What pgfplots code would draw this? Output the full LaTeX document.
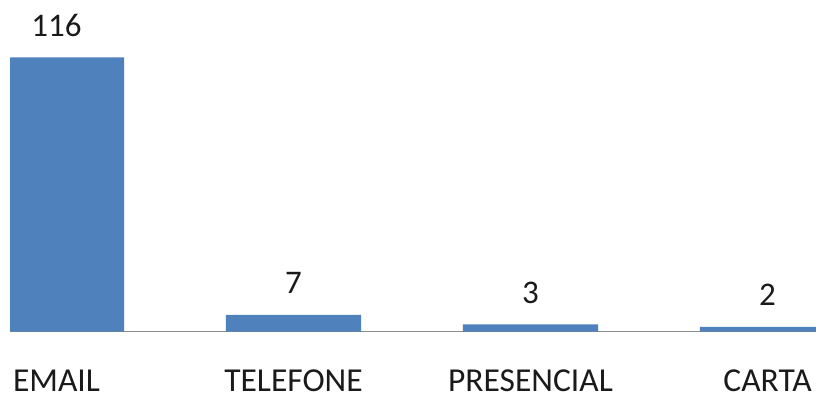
\documentclass[border=0pt]{standalone}
\usepackage{pgfplots}
\pgfplotsset{compat=1.18}
\usepackage{fontspec}
\setmainfont{Carlito}
\definecolor{barblue}{HTML}{4F81BD}
\definecolor{axisgray}{HTML}{8C8C8C}
\definecolor{txt}{HTML}{1A1A1A}
\begin{document}
\begin{tikzpicture}
\useasboundingbox (0,0) rectangle (816pt,394pt);
\begin{axis}[
  at={(10pt,62.5pt)}, anchor=south west,
  scale only axis,
  width=806pt, height=331.5pt,
  xmin=-0.1962, xmax=3.2046,
  ymin=0, ymax=140.3,
  ybar, bar width=0.57,
  axis x line*=bottom, axis y line=none,
  axis line style={axisgray, line width=1.3pt},
  xtick=data,
  xticklabels={EMAIL,TELEFONE,PRESENCIAL,CARTA},
  major tick length=0pt,
  xticklabel style={font=\fontsize{33.5}{40}\selectfont, text=txt, anchor=base,
    inner sep=0pt, text depth=0pt, yshift=-60pt},
  nodes near coords,
  every node near coord/.append style={font=\fontsize{33}{40}\selectfont, text=txt,
    anchor=base, yshift=21pt},
  /pgf/number format/assume math mode=true,
]
\addplot[fill=barblue, draw=none] coordinates {(0,116) (1,7) (2,3) (3,2)};
\end{axis}
\end{tikzpicture}
\end{document}
